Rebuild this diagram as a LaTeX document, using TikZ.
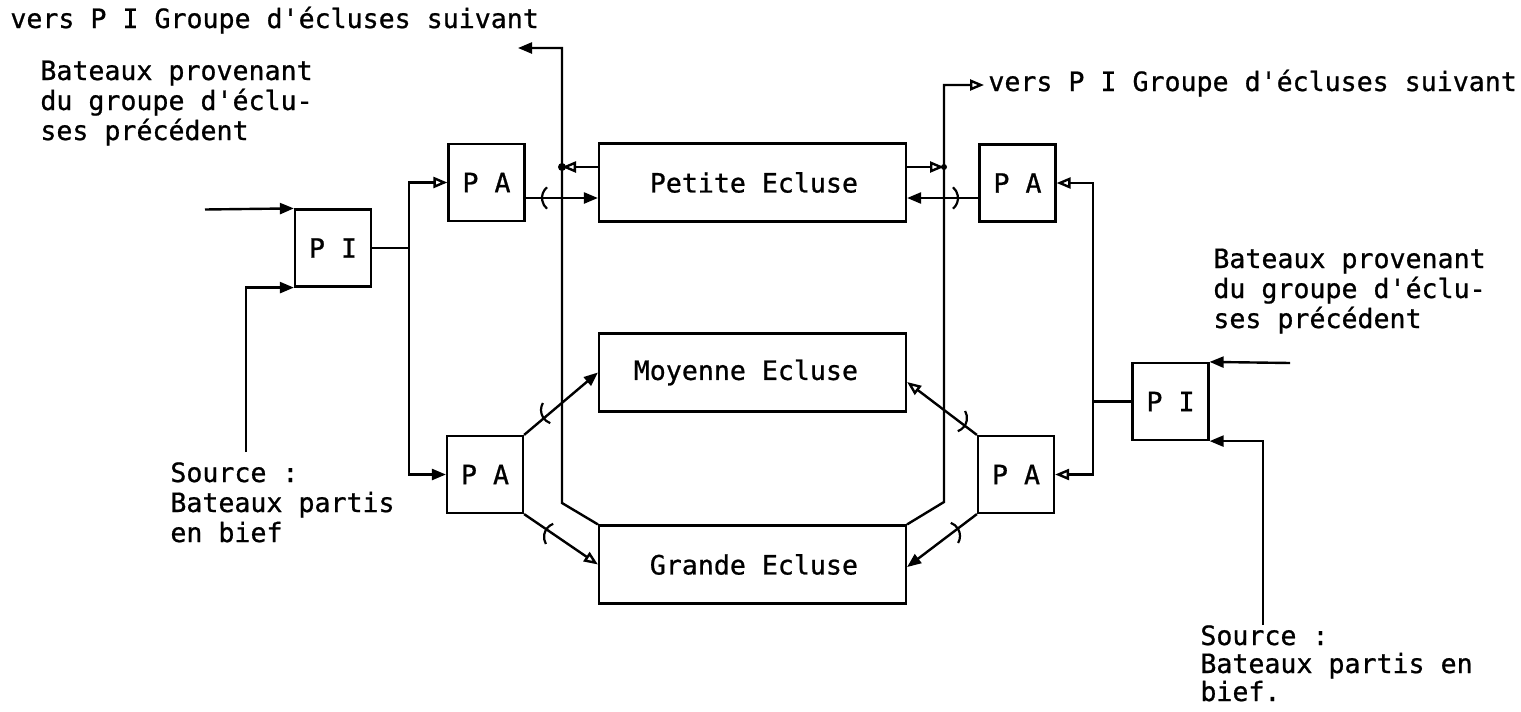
\documentclass[tikz,border=0pt]{standalone}
\usepackage{fontspec}
\setmonofont{DejaVu Sans Mono}[FakeBold=0.8]
\usetikzlibrary{arrows.meta,calc}
\begin{document}
\begin{tikzpicture}[x=0.5pt,y=-0.5pt,
  every node/.style={font=\ttfamily\fontsize{13.3pt}{15pt}\selectfont},
  box/.style={draw, line width=1.1pt, inner sep=0pt, minimum width=38pt, minimum height=38.5pt},
  lock/.style={draw, line width=1.1pt, inner sep=0pt, minimum width=153.5pt, minimum height=39pt},
  ln/.style={line width=1.2pt},
  arr/.style={ln, -{Triangle[length=7pt,width=5.5pt]}},
  oarr/.style={ln, -{Triangle[open,length=7pt,width=5.5pt]}},
  lbl/.style={anchor=base west, inner sep=0pt},
  hopl/.style={line width=1.1pt},
]
\useasboundingbox (0,0) rectangle (1521,712);

% boxes
\node[box] (PIL)  at (333,248)    {P I};
\node[box] (PAL1) at (486.5,182.5) {P A};
\node[box] (PAL2) at (485,474.5)  {P A};
\node[box] (PAR1) at (1017.5,183) {P A};
\node[box] (PAR2) at (1016,474.5) {P A};
\node[box] (PIR)  at (1170.5,401.5) {P I};

\node[lock] (PE) at (752.5,182.5) {\makebox[153.5pt][r]{Petite Ecluse\hspace{24pt}}};
\node[lock] (ME) at (752.5,372.5) {\makebox[153.5pt][r]{Moyenne Ecluse\hspace{24pt}}};
\node[lock] (GE) at (752.5,564.5) {\makebox[153.5pt][r]{Grande Ecluse\hspace{24pt}}};

% texts
\node[lbl] (tTL) at (10,28) {vers P I Groupe d'écluses suivant};
\node[lbl] (tTR) at (988,91) {vers P I Groupe d'écluses suivant};
\node[lbl] (tBL1) at (40,80)  {Bateaux provenant};
\node[lbl] (tBL2) at (40,110) {du groupe d'éclu-};
\node[lbl] (tBL3) at (40,140) {ses précédent};
\node[lbl] (tBR1) at (1213,268) {Bateaux provenant};
\node[lbl] (tBR2) at (1213,298) {du groupe d'éclu-};
\node[lbl] (tBR3) at (1213,328) {ses précédent};
\node[lbl] (tSL1) at (170,482) {Source :};
\node[lbl] (tSL2) at (170,512) {Bateaux partis};
\node[lbl] (tSL3) at (170,542) {en bief};
\node[lbl] (tSR1) at (1200,645) {Source :};
\node[lbl] (tSR2) at (1200,673) {Bateaux partis en};
\node[lbl] (tSR3) at (1200,701) {bief.};

% coordinates
\coordinate (inL)  at (205,209.5);
\coordinate (srcL) at (246,452);
\coordinate (busL) at (409,248);
\coordinate (busLtop) at (562,48);
\coordinate (busLbot) at (562,503);
\coordinate (outL) at (518,48);
\coordinate (busRtop) at (944,85);
\coordinate (busRbot) at (944,502);
\coordinate (outR) at (984,85);
\coordinate (busR) at (1093,401.5);
\coordinate (inR)  at (1290,363);
\coordinate (srcR) at (1263,625);

\coordinate (peWin)  at ($(PE.west)+(0,15.5)$);
\coordinate (peWout) at ($(PE.west)+(0,-15.5)$);
\coordinate (peEin)  at ($(PE.east)+(0,15.5)$);
\coordinate (peEout) at ($(PE.east)+(0,-15.5)$);
\coordinate (meEin)  at ($(ME.east)+(0,9.5)$);
\coordinate (geEin)  at ($(GE.east)+(0,2.5)$);

% left inputs
\draw[arr] (inL) -- (PIL.north west);
\draw[arr] (srcL) |- (PIL.south west);
\draw[ln] (PIL.east) -- (busL);
\draw[oarr] (busL) |- (PAL1.west);
\draw[arr] (busL) |- (PAL2.west);

% left PA to locks
\draw[arr] (PAL1.east |- peWin) -- (peWin);
\draw[arr] (PAL2.north east) -- (ME.west);
\draw[oarr] (PAL2.south east) -- (GE.west);

% left outputs
\draw[oarr] (peWout) -- (peWout -| busLtop);
\fill (peWout -| busLtop) circle[radius=2pt];
\draw[arr] (GE.north west) -- (busLbot) -- (busLtop) -- (outL);

% right outputs
\draw[oarr] (peEout) -- (peEout -| busRtop);
\fill (peEout -| busRtop) circle[radius=1.5pt];
\draw[oarr] (GE.north east) -- (busRbot) -- (busRtop) -- (outR);

% right PA to locks
\draw[arr] (PAR1.west |- peEin) -- (peEin);
\draw[oarr] (PAR2.north west) -- (meEin);
\draw[arr] (PAR2.south west) -- (geEin);

% right inputs
\draw[ln] (PIR.west) -- (busR);
\draw[oarr] (busR) |- (PAR1.east);
\draw[oarr] (busR) |- (PAR2.east);
\draw[arr] (inR) -- (PIR.north east);
\draw[arr] (srcR) |- (PIR.south east);

% transfer marks
\draw[hopl] (556,198) ++(130:7pt) arc[start angle=130,end angle=230,radius=7pt];
\draw[hopl] (555,410) ++(150:7pt) arc[start angle=150,end angle=250,radius=7pt];
\draw[hopl] (558,537) ++(110:7pt) arc[start angle=110,end angle=210,radius=7pt];
\draw[hopl] (944,198) ++(-50:7pt) arc[start angle=-50,end angle=50,radius=7pt];
\draw[hopl] (953,418) ++(-70:7pt) arc[start angle=-70,end angle=30,radius=7pt];
\draw[hopl] (946,536) ++(-30:7pt) arc[start angle=-30,end angle=70,radius=7pt];
\end{tikzpicture}
\end{document}
